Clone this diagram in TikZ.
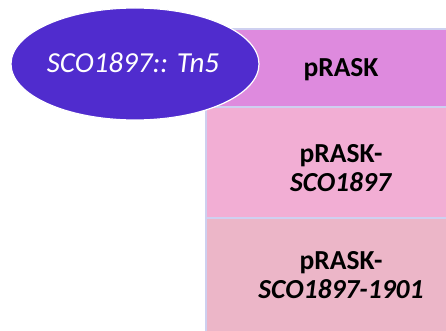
\documentclass[tikz,border=0pt]{standalone}
\usepackage{fontspec}
\setmainfont{Carlito}
\usetikzlibrary{shapes.geometric}
\definecolor{strainblue}{RGB}{80,44,206}
\definecolor{rowA}{RGB}{222,138,222}
\definecolor{rowB}{RGB}{242,174,212}
\definecolor{rowC}{RGB}{236,182,200}
\definecolor{rowline}{RGB}{206,208,240}
\tikzset{
  x=1pt, y=1pt,
  rowbox/.style={draw=rowline, line width=1.2pt},
  rowtext/.style={font=\fontsize{27.5}{28.5}\selectfont\bfseries, align=center,
    text=black, inner sep=0pt},
  strain/.style={ellipse, fill=strainblue, draw=white, line width=1.2pt,
    minimum width=248pt, minimum height=112pt, inner sep=0pt},
  straintext/.style={text=white, font=\fontsize{29}{32}\selectfont\itshape, inner sep=0pt}
}
\begin{document}
\begin{tikzpicture}
\useasboundingbox (0,0) rectangle (446,-331);
% stacked plasmid rows
\filldraw[rowbox, fill=rowA] (206,-29) rectangle (470,-107);
\filldraw[rowbox, fill=rowB] (206,-107) rectangle (470,-218);
\filldraw[rowbox, fill=rowC] (206,-218) rectangle (470,-345);
% base anchor of a two-line node sits on its last line
\node[rowtext, anchor=base] (r1) at (341,-77) {pRASK};
\node[rowtext, anchor=base] (r2) at (341,-191) {pRASK-\\\textit{SCO1897}};
\node[rowtext, anchor=base] (r3) at (341,-298) {pRASK-\\\textit{SCO1897-1901}};
% mutant strain
\node[strain] (s) at (135,-64) {};
\node[straintext, anchor=base] (st) at (133,-73) {SCO1897:: Tn5};
\end{tikzpicture}
\end{document}
